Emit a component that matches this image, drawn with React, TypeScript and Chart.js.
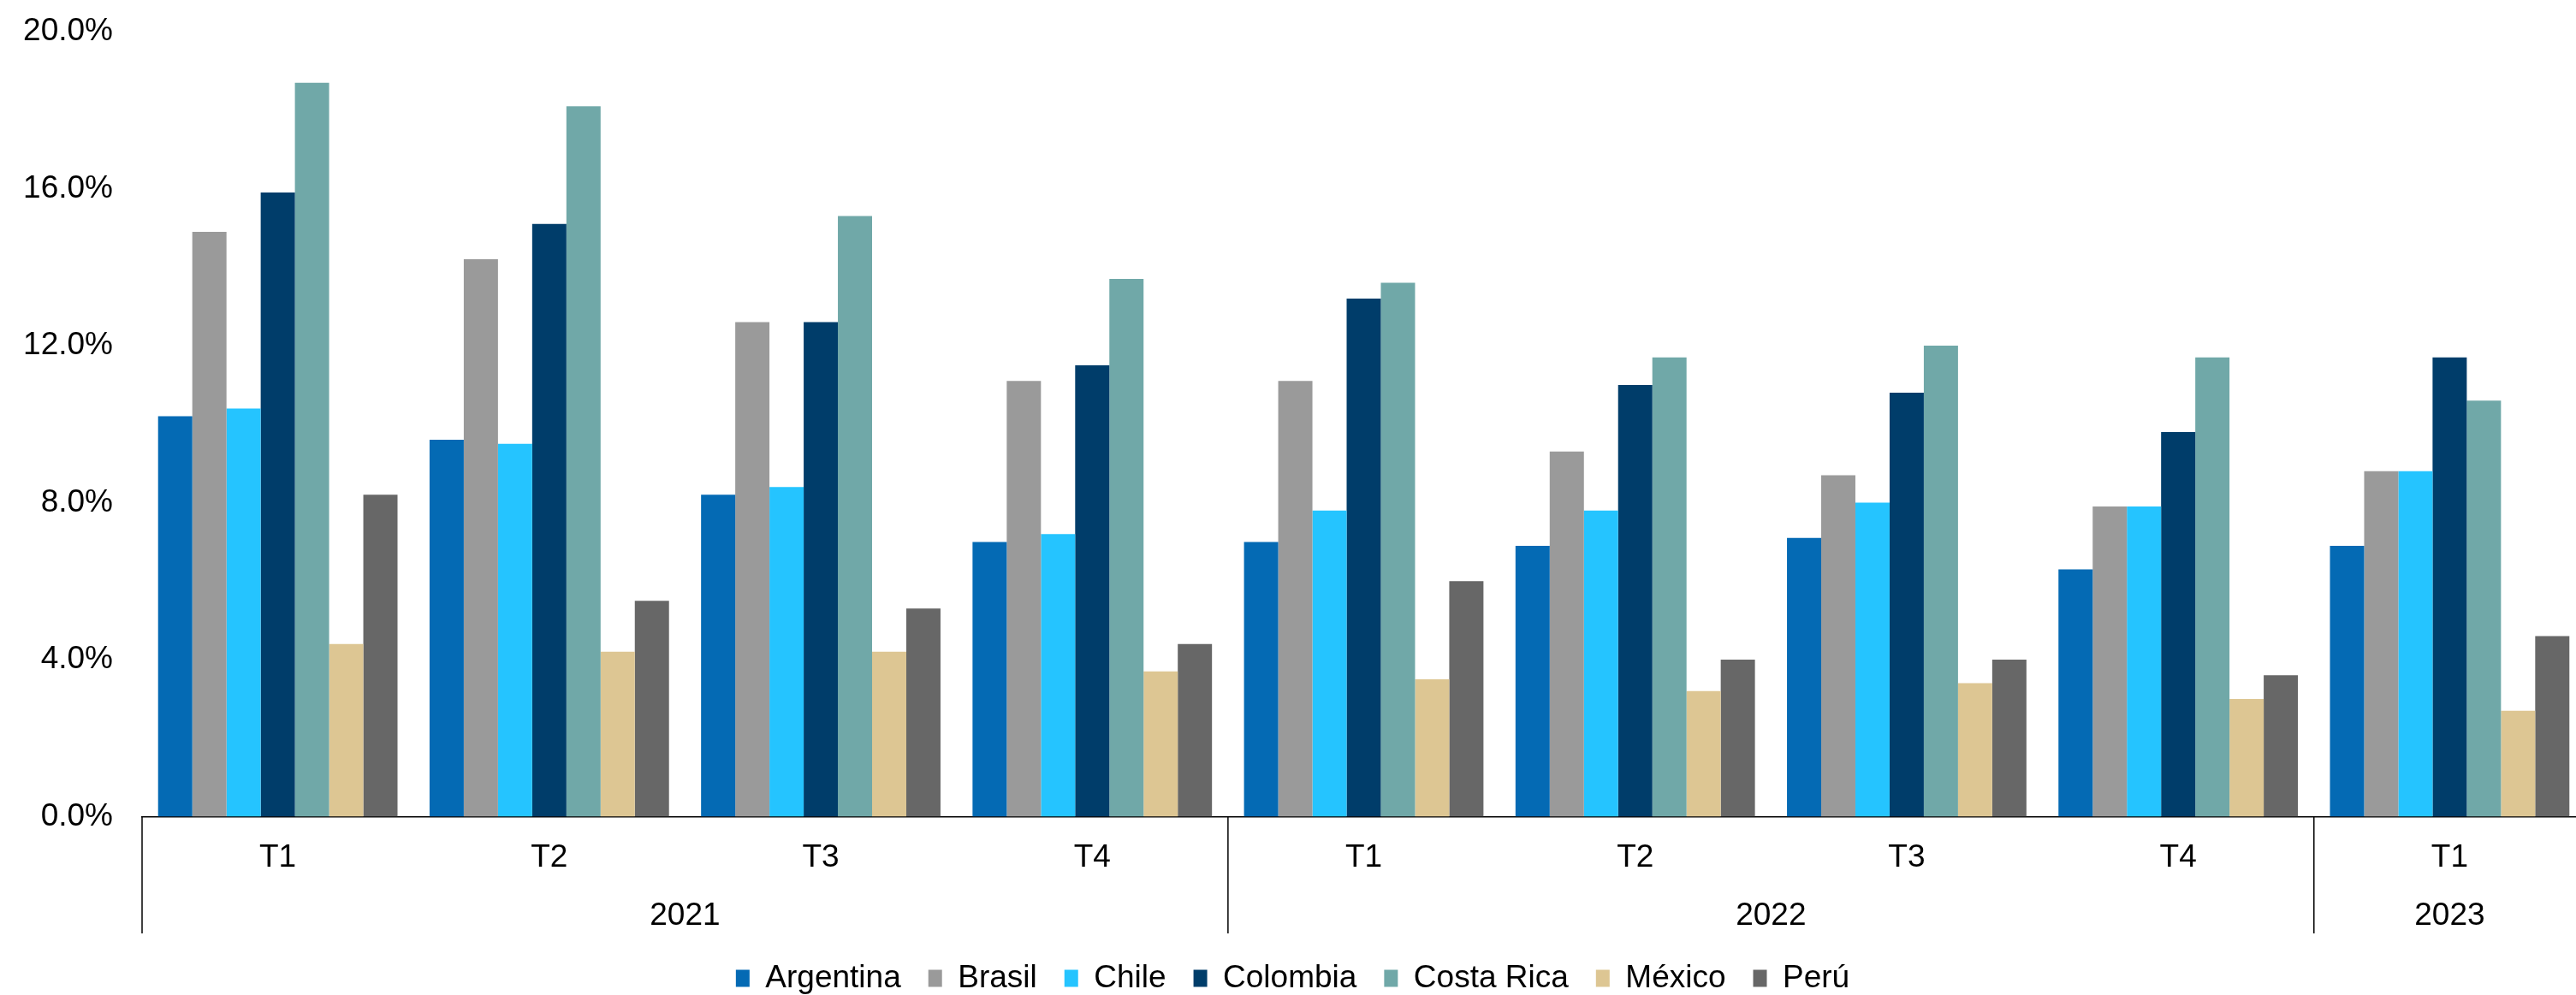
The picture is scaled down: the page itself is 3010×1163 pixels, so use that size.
import React, { useEffect, useRef } from "react";
import { Chart, registerables } from "chart.js";

Chart.register(...registerables);

// Quarterly categories and the years that group them
const quarters = ["T1", "T2", "T3", "T4", "T1", "T2", "T3", "T4", "T1"];
const years = ["2021", "2022", "2023"];
const quartersPerYear = [4, 4, 1];

// Series values (%)
const argentina = [10.2, 9.6, 8.2, 7.0, 7.0, 6.9, 7.1, 6.3, 6.9];
const brasil = [14.9, 14.2, 12.6, 11.1, 11.1, 9.3, 8.7, 7.9, 8.8];
const chile = [10.4, 9.5, 8.4, 7.2, 7.8, 7.8, 8.0, 7.9, 8.8];
const colombia = [15.9, 15.1, 12.6, 11.5, 13.2, 11.0, 10.8, 9.8, 11.7];
const costaRica = [18.7, 18.1, 15.3, 13.7, 13.6, 11.7, 12.0, 11.7, 10.6];
const mexico = [4.4, 4.2, 4.2, 3.7, 3.5, 3.2, 3.4, 3.0, 2.7];
const peru = [8.2, 5.5, 5.3, 4.4, 6.0, 4.0, 4.0, 3.6, 4.6];

const yTicks = [0, 4, 8, 12, 16, 20];

const series = [
  { label: "Argentina", data: argentina, color: "#046AB4" },
  { label: "Brasil", data: brasil, color: "#9A9A9A" },
  { label: "Chile", data: chile, color: "#25C4FF" },
  { label: "Colombia", data: colombia, color: "#003D6A" },
  { label: "Costa Rica", data: costaRica, color: "#70A8A8" },
  { label: "México", data: mexico, color: "#DDC693" },
  { label: "Perú", data: peru, color: "#676767" },
];

// Year label positions (centre of each group) and group boundaries on the index axis
const yearCenters: number[] = [];
const yearBounds: number[] = [-0.5];
{
  let start = 0;
  quartersPerYear.forEach((n) => {
    yearCenters.push(start + (n - 1) / 2);
    start += n;
    yearBounds.push(start - 0.5);
  });
}

const FONT = "'Liberation Sans', Arial, sans-serif";

const groupDividers = {
  id: "groupDividers",
  afterDraw(chart: any) {
    const scale = chart.scales.xYear;
    const { ctx, chartArea } = chart;
    ctx.save();
    ctx.strokeStyle = "#000";
    ctx.lineWidth = 1.5;
    yearBounds.forEach((b) => {
      const px = scale.getPixelForValue(b);
      ctx.beginPath();
      ctx.moveTo(px, chartArea.bottom);
      ctx.lineTo(px, scale.bottom - 2);
      ctx.stroke();
    });
    ctx.restore();
  },
};

export default function App() {
  const ref = useRef<HTMLCanvasElement | null>(null);

  useEffect(() => {
    if (!ref.current) return;
    const chart = new Chart(ref.current, {
      type: "bar",
      data: {
        labels: quarters,
        datasets: series.map((s) => ({
          label: s.label,
          data: s.data,
          backgroundColor: s.color,
          borderWidth: 0,
          barPercentage: 1,
          categoryPercentage: 0.882,
        })),
      },
      options: {
        animation: false,
        responsive: false,
        devicePixelRatio: 1,
        layout: { padding: { top: 37, left: 0, right: 0, bottom: 0 } },
        font: { family: FONT, size: 37 },
        plugins: {
          tooltip: { enabled: false },
          legend: {
            display: true,
            position: "bottom",
            labels: {
              color: "#000",
              font: { family: FONT, size: 37 },
              boxWidth: 16,
              boxHeight: 20,
              padding: 32,
            },
          },
        },
        scales: {
          x: {
            type: "category",
            position: "bottom",
            grid: { display: false, drawTicks: false },
            border: { display: true, color: "#000", width: 1.5 },
            ticks: {
              color: "#000",
              font: { family: FONT, size: 37 },
              padding: 25.8,
              autoSkip: false,
              maxRotation: 0,
              minRotation: 0,
            },
            afterFit(scale: any) {
              scale.height = 96;
            },
          },
          xYear: {
            type: "linear",
            position: "bottom",
            min: -0.5,
            max: 8.5,
            offset: false,
            grid: { display: false, drawTicks: false },
            border: { display: false },
            ticks: {
              color: "#000",
              font: { family: FONT, size: 37 },
              padding: -2.2,
              autoSkip: false,
              maxRotation: 0,
              minRotation: 0,
              callback: (v: any) => {
                const i = yearCenters.indexOf(Number(v));
                return i >= 0 ? years[i] : "";
              },
            },
            afterBuildTicks(scale: any) {
              scale.ticks = yearCenters.map((v) => ({ value: v }));
            },
            afterFit(scale: any) {
              scale.height = 42.5;
            },
          },
          y: {
            min: 0,
            max: 20,
            grid: { display: false, drawTicks: false },
            border: { display: false },
            ticks: {
              color: "#000",
              font: { family: FONT, size: 37 },
              padding: 34,
              callback: (v: any) => Number(v).toFixed(1) + "%",
            },
            afterBuildTicks(scale: any) {
              scale.ticks = yTicks.map((v) => ({ value: v }));
            },
            afterFit(scale: any) {
              scale.width = 166;
              scale.paddingTop = 0;
              scale.paddingBottom = 0;
            },
          },
        },
      } as any,
      plugins: [groupDividers],
    });
    return () => chart.destroy();
  }, []);

  return (
    <div
      style={{
        position: "fixed",
        left: 0,
        top: 0,
        width: 3010,
        height: 1163,
        overflow: "hidden",
        background: "#fff",
      }}
    >
      <canvas ref={ref} width={3021} height={1172} style={{ display: "block" }} />
    </div>
  );
}
